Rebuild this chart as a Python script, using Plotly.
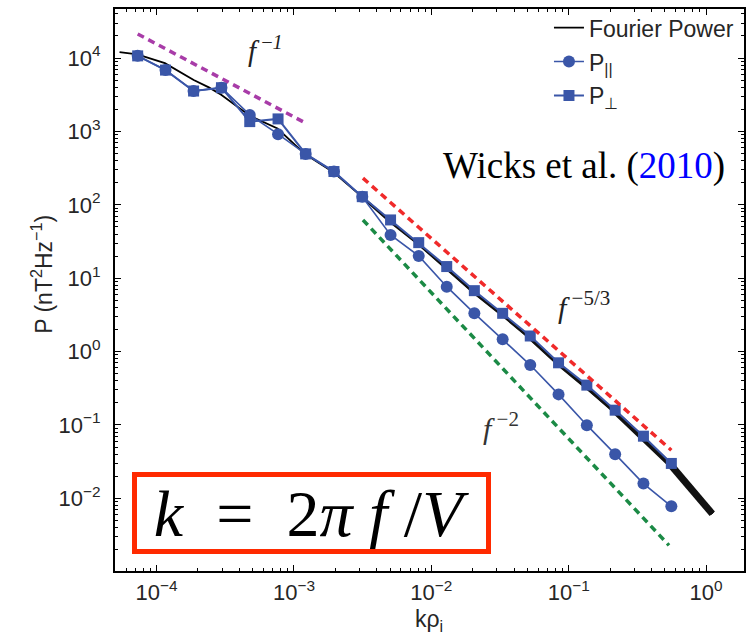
import plotly.graph_objects as go

# ---------------- data ----------------
k_bins = [7.28e-5, 1.161e-4, 1.858e-4, 2.965e-4, 4.764e-4, 7.656e-4, 1.216e-3,
          1.954e-3, 3.141e-3, 5.047e-3, 8.091e-3, 1.294e-2, 2.056e-2, 3.304e-2,
          5.248e-2, 8.433e-2, 0.1355, 0.2178, 0.3499, 0.5585]
p_par = [10700, 6850, 3550, 3940, 1680, 918, 494, 284, 129, 38.9, 20.1, 7.66,
         3.32, 1.47, 0.655, 0.261, 0.0993, 0.0400, 0.0159, 0.0078]
p_perp = [10700, 6850, 3550, 3940, 1360, 1480, 494, 284, 129, 62.2, 30.5, 14.4,
          6.76, 3.32, 1.63, 0.703, 0.349, 0.159, 0.0703, 0.0299]

fourier_k = [5.37e-5, 7.24e-5, 1.148e-4, 1.862e-4, 2.399e-4, 2.951e-4, 4.786e-4,
             7.586e-4, 1.202e-3, 1.950e-3, 3.162e-3, 5.012e-3, 8.128e-3, 1.288e-2,
             2.042e-2, 3.311e-2, 5.248e-2, 8.511e-2, 0.1349, 0.2188, 0.3467,
             0.5623, 0.7943, 1.109]
fourier_p = [12020, 11220, 8511, 5012, 3981, 3162, 1622, 1096, 490, 275, 126, 58.9,
             28.8, 13.5, 6.31, 3.09, 1.51, 0.661, 0.324, 0.148, 0.0661, 0.0275,
             0.0132, 0.00617]

slope1_k = [7.28e-5, 1.216e-3]
slope1_p = [21230, 1297]
slope53_k = [3.177e-3, 0.5585]
slope53_p = [230.7, 0.0453]
slope2_k = [3.177e-3, 0.537]
slope2_p = [62.2, 0.00229]

x_tick_vals = [1e-4, 1e-3, 1e-2, 1e-1, 1e0]
x_tick_text = ["10<sup>−4</sup>", "10<sup>−3</sup>", "10<sup>−2</sup>", "10<sup>−1</sup>", "10<sup>0</sup>"]
y_tick_vals = [1e-2, 1e-1, 1e0, 1e1, 1e2, 1e3, 1e4]
y_tick_text = ["10<sup>−2</sup>", "10<sup>−1</sup>", "10<sup>0</sup>", "10<sup>1</sup>",
               "10<sup>2</sup>", "10<sup>3</sup>", "10<sup>4</sup>"]

# ---------------- styles ----------------
SANS = "Liberation Sans, Arial, sans-serif"
SERIF = "Liberation Serif, Times New Roman, serif"
BLUE = "#3a56a8"
TXT = "#262626"

fig = go.Figure()

# Fourier power: thin line, thickening at high k (noisy band)
fig.add_trace(go.Scatter(x=fourier_k, y=fourier_p, mode="lines", name="Fourier Power",
                         line=dict(color="black", width=1.8), legendgroup="a", legendrank=1))
for i0, w in [(10, 2.6), (16, 3.6), (19, 5), (21, 7)]:
    fig.add_trace(go.Scatter(x=fourier_k[i0:], y=fourier_p[i0:], mode="lines",
                             line=dict(color="#111", width=w), showlegend=False,
                             hoverinfo="skip"))

fig.add_trace(go.Scatter(x=k_bins, y=p_perp, mode="lines+markers", name="P<sub>⊥</sub>",
                         line=dict(color=BLUE, width=2),
                         marker=dict(symbol="square", size=11, color=BLUE),
                         legendgroup="c", legendrank=3))
fig.add_trace(go.Scatter(x=k_bins, y=p_par, mode="lines+markers", name="P<sub>||</sub>",
                         line=dict(color=BLUE, width=1.6),
                         marker=dict(symbol="circle", size=12, color=BLUE),
                         legendgroup="b", legendrank=2))

for kk, pp, col in [(slope1_k, slope1_p, "#a83ca8"), (slope53_k, slope53_p, "#f02a2a"),
                    (slope2_k, slope2_p, "#1b8a45")]:
    fig.add_trace(go.Scatter(x=kk, y=pp, mode="lines", showlegend=False,
                             line=dict(color=col, width=3.5, dash="7px,5px")))

ann = []
ann.append(dict(x=-3.21, y=4.12, xref="x", yref="y", text="<i>f</i><sup> −<i>1</i></sup>",
                showarrow=False, font=dict(family=SERIF, size=29, color="#222")))
ann.append(dict(x=-0.89, y=0.64, xref="x", yref="y", text="<i>f</i><sup> −5/3</sup>",
                showarrow=False, font=dict(family=SERIF, size=30, color="#222")))
ann.append(dict(x=-1.49, y=-1.02, xref="x", yref="y", text="<i>f</i><sup> −2</sup>",
                showarrow=False, font=dict(family=SERIF, size=30, color="#333")))
ann.append(dict(x=0.745, y=0.762, xref="paper", yref="paper", xanchor="center",
                text="Wicks et al. (<span style='color:#0000ff'>2010</span>)",
                showarrow=False, font=dict(family=SERIF, size=37, color="black")))
ann.append(dict(x=0.313, y=0.103, xref="paper", yref="paper", xanchor="center", yanchor="middle",
                text="<i>k</i>  =  2<i>π f</i> /<i>V</i>", showarrow=False,
                width=349, height=72, borderwidth=5, borderpad=0,
                bordercolor="#ff2a00", bgcolor="white",
                font=dict(family=SERIF, size=66, color="black")))
ann.append(dict(x=-0.116, y=0.527, xref="paper", yref="paper", textangle=-90,
                xanchor="center", yanchor="middle",
                text="P (nT<sup>2</sup>Hz<sup>−1</sup>)", showarrow=False,
                font=dict(family=SANS, size=23, color=TXT)))
ann.append(dict(x=0.499, y=-0.058, xref="paper", yref="paper", yanchor="top", xanchor="center",
                text="kρ<sub>i</sub>", showarrow=False,
                font=dict(family=SANS, size=23, color=TXT)))

minor_vals = [m * 10.0 ** e for e in range(-6, 6) for m in range(2, 10)]

axis_common = dict(type="log", showgrid=False, zeroline=False, showline=True,
                   linecolor="black", linewidth=2, mirror="ticks", ticks="inside",
                   ticklen=6, tickwidth=1.2, tickcolor="black", tickmode="array",
                   tickfont=dict(family=SANS, size=22, color=TXT),
                   minor=dict(ticks="inside", ticklen=3, tickcolor="black", tickwidth=1,
                              tickmode="array", tickvals=minor_vals, showgrid=False))

fig.update_xaxes(range=[-4.303, 0.276], tickvals=x_tick_vals, ticktext=x_tick_text,
                 ticklabelstandoff=1, **axis_common)
fig.update_yaxes(range=[-2.99, 4.668], tickvals=y_tick_vals, ticktext=y_tick_text,
                 ticklabelstandoff=8, **axis_common)

fig.update_layout(
    width=747, height=637,
    margin=dict(l=115, r=1, t=9, b=66),
    paper_bgcolor="white", plot_bgcolor="white",
    annotations=ann,
    legend=dict(x=0.992, y=1.005, xanchor="right", yanchor="top", bgcolor="rgba(0,0,0,0)",
                font=dict(family=SANS, size=23, color=TXT), traceorder="grouped",
                tracegroupgap=1, itemwidth=30),
)

fig.write_html("out.html")
